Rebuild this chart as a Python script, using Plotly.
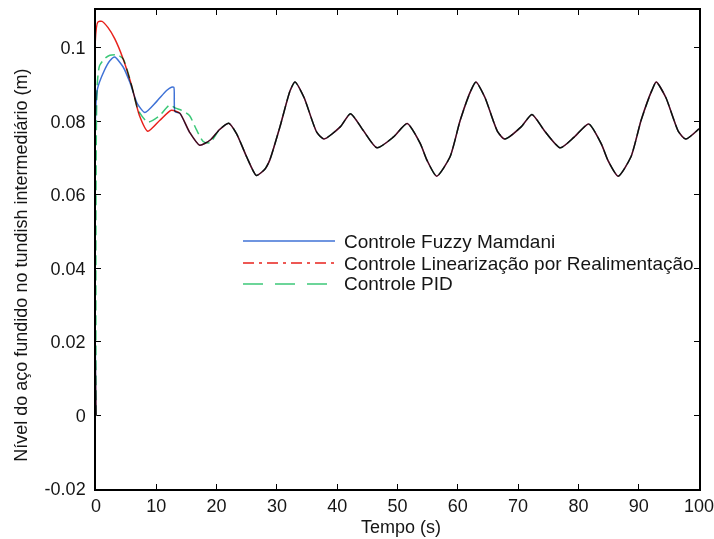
import plotly.graph_objects as go

# Shared steady-state oscillation (all three controllers track the same disturbance)
t_common = [19, 20.5, 22, 23.3, 25, 26.6, 28, 28.8, 30.5, 32.2, 33, 34.5, 36.6, 37.8,
            40.5, 42.2, 44.3, 46.6, 49.3, 51.6, 53.8, 54.9, 56.5, 58.7, 60.4, 62.2, 63,
            64.5, 66.6, 67.8, 70.5, 72.3, 74.3, 77, 79.3, 81.7, 83.8, 84.9, 86.6, 88.7,
            90.4, 92.2, 92.9, 94.5, 96.6, 97.8, 100]
y_common = [0.0750, 0.0778, 0.0795, 0.0767, 0.0703, 0.0653, 0.0670, 0.0694, 0.0785,
            0.0884, 0.0907, 0.0865, 0.0771, 0.0752, 0.0785, 0.0821, 0.0776, 0.0728,
            0.0757, 0.0794, 0.0739, 0.0694, 0.0651, 0.0703, 0.0803, 0.0885, 0.0907,
            0.0865, 0.0772, 0.0752, 0.0785, 0.0819, 0.0776, 0.0728, 0.0757, 0.0793,
            0.0739, 0.0694, 0.0651, 0.0703, 0.0803, 0.0885, 0.0907, 0.0865, 0.0772,
            0.0752, 0.0780]

# Start-up transients of each controller
t_fuzzy = [0, 0.2, 1.4, 2.3, 3.1, 4.5, 5.6, 6.8, 8.1, 10.0, 11.7, 12.5, 12.9, 13.1,
           13.9, 15.5, 17.2]
y_fuzzy = [0, 0.0885, 0.0939, 0.0965, 0.0975, 0.0948, 0.0907, 0.0850, 0.0824, 0.0853,
           0.0884, 0.0893, 0.0893, 0.0827, 0.0822, 0.0771, 0.0735]

t_linear = [0, 0.3, 1.0, 2.0, 3.1, 4.5, 5.9, 7.2, 8.6, 10.6, 12.5, 13.9, 15.5, 17.2]
y_linear = [0, 0.1070, 0.1072, 0.1055, 0.1025, 0.0970, 0.0898, 0.0816, 0.0773, 0.0803,
            0.0830, 0.0822, 0.0771, 0.0735]

t_pid = [0, 0.2, 0.6, 1.5, 2.3, 3.5, 4.5, 5.9, 7.0, 8.6, 10.5, 12.2, 13.2, 14.2, 15.5,
         16.7, 17.8, 18.9]
y_pid = [0, 0.0900, 0.0952, 0.0972, 0.0980, 0.0981, 0.0970, 0.0898, 0.0830, 0.0798,
         0.0815, 0.0844, 0.0836, 0.0830, 0.0816, 0.0776, 0.0745, 0.0742]

labels = ["Controle Fuzzy Mamdani",
          "Controle Linearização por Realimentação",
          "Controle PID"]

x_ticks = [0, 10, 20, 30, 40, 50, 60, 70, 80, 90, 100]
y_ticks = [-0.02, 0, 0.02, 0.04, 0.06, 0.08, 0.1]
y_ticktext = ["-0.02", "0", "0.02", "0.04", "0.06", "0.08", "0.1"]

BLUE = "#3f72d6"
RED = "#e8221c"
GREEN = "#3cc878"
INK = "#151515"
FONT = "Liberation Sans, Arial, sans-serif"

fig = go.Figure()

fig.add_trace(go.Scatter(
    x=t_fuzzy + t_common, y=y_fuzzy + y_common, mode="lines",
    line=dict(color=BLUE, width=1.5, shape="spline", smoothing=0.6),
    name=labels[0], showlegend=False))
fig.add_trace(go.Scatter(
    x=t_pid + t_common[1:], y=y_pid + y_common[1:], mode="lines",
    line=dict(color=GREEN, width=1.5, shape="spline", smoothing=0.6, dash="10px,5px"),
    name=labels[2], showlegend=False))
fig.add_trace(go.Scatter(
    x=t_linear + t_common, y=y_linear + y_common, mode="lines",
    line=dict(color=RED, width=1.5, shape="spline", smoothing=0.6),
    name=labels[1], showlegend=False))

# Hand-drawn legend inside the axes (long line samples)
legend_rows = [0.5177, 0.4718, 0.4280]
legend_styles = [(BLUE, "solid"), (RED, "11px,5px,3px,5px"), (GREEN, "20px,12px")]
for label, yrow, (col, dash) in zip(labels, legend_rows, legend_styles):
    fig.add_shape(type="line", xref="paper", yref="paper",
                  x0=0.2438, x1=0.3964, y0=yrow, y1=yrow,
                  line=dict(color=col, width=1.5, dash=dash))
    fig.add_annotation(xref="paper", yref="paper", x=0.408, y=yrow, text=label,
                       showarrow=False, xanchor="left", yanchor="middle",
                       font=dict(family=FONT, size=19, color=INK))

# Axis titles
fig.add_annotation(xref="paper", yref="paper", x=0.5055, y=-0.079,
                   text="Tempo (s)", showarrow=False,
                   xanchor="center", yanchor="middle",
                   font=dict(family=FONT, size=18, color=INK))
fig.add_annotation(xref="paper", yref="paper", x=-0.124, y=0.4666,
                   text="Nível do aço fundido no tundish intermediário (m)",
                   textangle=-90, showarrow=False,
                   xanchor="center", yanchor="middle",
                   font=dict(family=FONT, size=18, color=INK))

axis_common = dict(showline=True, linecolor="black", linewidth=1.5, mirror="allticks",
                   ticks="inside", ticklen=5, tickwidth=1.2, tickcolor="black",
                   showgrid=False, zeroline=False, automargin=False,
                   ticklabeloverflow="allow",
                   tickfont=dict(family=FONT, size=18, color=INK))

fig.update_layout(
    width=714, height=539,
    margin=dict(l=96, r=15, t=10, b=50, autoexpand=False),
    paper_bgcolor="white", plot_bgcolor="white",
    showlegend=False,
    xaxis=dict(range=[0, 100], tickvals=x_ticks, **axis_common),
    yaxis=dict(range=[-0.02, 0.1103], tickvals=y_ticks, ticktext=y_ticktext,
               ticklabelstandoff=5, layer="below traces", **axis_common),
)

# Overlapping curves darken each other like printed inks
post = """
var gd = document.getElementById('{plot_id}');
gd.querySelectorAll('.scatterlayer .js-line').forEach(function(p){
  p.style.mixBlendMode = 'multiply';
});
"""
fig.write_html("out.html", post_script=post)
